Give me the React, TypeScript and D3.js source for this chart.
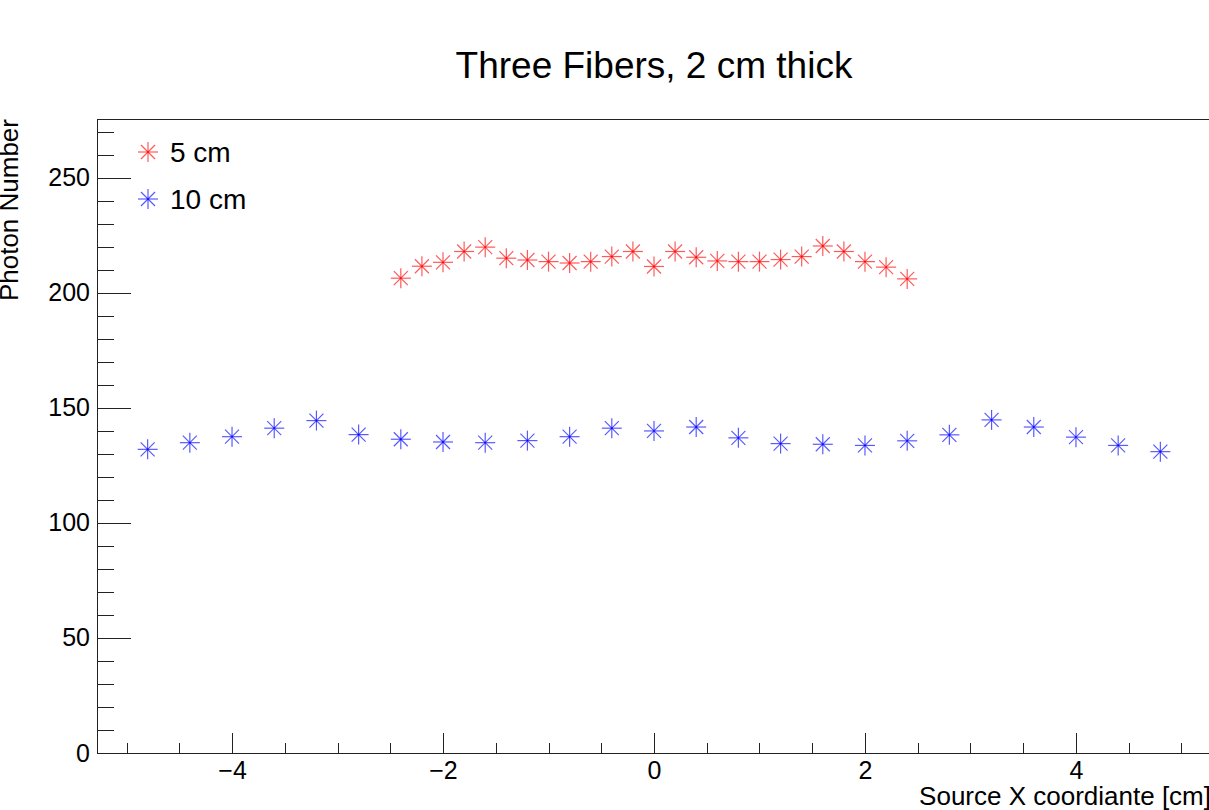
import React, { useEffect, useRef } from "react";
import * as d3 from "d3";

const title = "Three Fibers, 2 cm thick";
const xLabel = "Source X coordiante [cm]";
const yLabel = "Photon Number";

// 5 cm series
const redX = [
  -2.4, -2.2, -2.0, -1.8, -1.6, -1.4, -1.2, -1.0, -0.8, -0.6, -0.4, -0.2, 0.0,
  0.2, 0.4, 0.6, 0.8, 1.0, 1.2, 1.4, 1.6, 1.8, 2.0, 2.2, 2.4,
];
const redY = [
  206.4, 211.6, 213.3, 218.0, 219.9, 215.1, 214.3, 213.6, 213.0, 213.6, 215.8,
  218.0, 211.5, 218.0, 215.5, 213.9, 213.6, 213.6, 214.5, 215.8, 220.4, 218.0,
  213.6, 211.2, 206.1,
];

// 10 cm series
const blueX = [
  -4.8, -4.4, -4.0, -3.6, -3.2, -2.8, -2.4, -2.0, -1.6, -1.2, -0.8, -0.4, 0.0,
  0.4, 0.8, 1.2, 1.6, 2.0, 2.4, 2.8, 3.2, 3.6, 4.0, 4.4, 4.8,
];
const blueY = [
  132.0, 134.9, 137.5, 141.2, 144.5, 138.4, 136.4, 135.2, 134.9, 135.8, 137.5,
  141.2, 140.0, 141.7, 137.0, 134.5, 134.2, 133.7, 135.7, 138.3, 144.8, 141.7,
  137.3, 133.7, 131.0,
];

const legendLabels = ["5 cm", "10 cm"];
const seriesColors = ["#ff0000", "#0000ff"];

const xMajorTicks = [-4, -2, 0, 2, 4];
const yMajorTicks = [0, 50, 100, 150, 200, 250];

const FONT = "'Liberation Sans', Arial, Helvetica, sans-serif";

const App = () => {
  const svgRef = useRef<SVGSVGElement | null>(null);

  useEffect(() => {
    const root = d3.select(svgRef.current);
    root.selectAll("*").remove();

    const W = 1209;
    const H = 810;
    const left = 97;
    const top = 119;
    const right = 1211;
    const bottom = 753;

    root.attr("width", W).attr("height", H);

    const x = d3.scaleLinear().domain([-5.28, 5.28]).range([left, right]);
    const y = d3.scaleLinear().domain([0, 275.6]).range([bottom, top]);

    root
      .append("rect")
      .attr("width", W)
      .attr("height", H)
      .attr("fill", "#fff");

    // frame
    root
      .append("rect")
      .attr("x", left)
      .attr("y", top)
      .attr("width", right - left)
      .attr("height", bottom - top)
      .attr("fill", "none")
      .attr("stroke", "#222")
      .attr("stroke-width", 1)
      .attr("shape-rendering", "crispEdges");

    // minor ticks
    const xMinor = d3.range(-5, 5.01, 0.5).filter((v) => Math.abs(v % 2) > 0.01);
    const yMinor = d3.range(0, 271, 10).filter((v) => v % 50 !== 0);

    const xAxisMinor = root
      .append("g")
      .attr("transform", `translate(0,${bottom})`)
      .call(d3.axisBottom(x).tickValues(xMinor).tickSize(-10).tickFormat(() => ""));
    const xAxis = root
      .append("g")
      .attr("transform", `translate(0,${bottom})`)
      .call(
        d3
          .axisBottom(x)
          .tickValues(xMajorTicks)
          .tickSize(-20)
          .tickFormat(d3.format("d"))
      );
    const yAxisMinor = root
      .append("g")
      .attr("transform", `translate(${left},0)`)
      .call(d3.axisLeft(y).tickValues(yMinor).tickSize(-17).tickFormat(() => ""));
    const yAxis = root
      .append("g")
      .attr("transform", `translate(${left},0)`)
      .call(d3.axisLeft(y).tickValues(yMajorTicks).tickSize(-34).tickPadding(7));

    [xAxisMinor, xAxis, yAxisMinor, yAxis].forEach((g) => {
      g.select(".domain").remove();
      g.selectAll("line").attr("stroke", "#222").attr("shape-rendering", "crispEdges");
      g.selectAll("text")
        .attr("fill", "#000")
        .style("font-family", FONT)
        .style("font-size", "25px");
    });
    xAxis.selectAll("text").attr("dy", "0.71em").attr("y", 8);

    // title
    root
      .append("text")
      .attr("x", 654)
      .attr("y", 78)
      .attr("text-anchor", "middle")
      .style("font-family", FONT)
      .style("font-size", "37px")
      .text(title);

    // axis labels
    root
      .append("text")
      .attr("x", 1211)
      .attr("y", 805)
      .attr("text-anchor", "end")
      .style("font-family", FONT)
      .style("font-size", "26px")
      .text(xLabel);

    root
      .append("text")
      .attr("transform", `translate(18,${top}) rotate(-90)`)
      .attr("text-anchor", "end")
      .style("font-family", FONT)
      .style("font-size", "26px")
      .text(yLabel);

    // asterisk marker
    const star = (g: any, cx: number, cy: number, color: string) => {
      const r = 10;
      const d = 7;
      const s = g.append("g").attr("transform", `translate(${cx},${cy})`);
      const segs = [
        [-r, 0, r, 0],
        [0, -r, 0, r],
        [-d, -d, d, d],
        [-d, d, d, -d],
      ];
      segs.forEach(([x1, y1, x2, y2]) => {
        s.append("line")
          .attr("x1", x1)
          .attr("y1", y1)
          .attr("x2", x2)
          .attr("y2", y2)
          .attr("stroke", color)
          .attr("stroke-width", 1.2)
          .attr("stroke-opacity", 0.65);
      });
    };

    const series = [
      { xs: redX, ys: redY, color: seriesColors[0] },
      { xs: blueX, ys: blueY, color: seriesColors[1] },
    ];

    const marks = root.append("g");
    series.forEach((s) => {
      s.xs.forEach((xv, i) => {
        star(marks, x(xv), y(s.ys[i]), s.color);
      });
    });

    // legend
    const legend = root.append("g");
    legendLabels.forEach((lab, i) => {
      const ly = 152 + i * 47;
      star(legend, 148, ly, seriesColors[i]);
      legend
        .append("text")
        .attr("x", 170)
        .attr("y", ly)
        .attr("dy", "0.35em")
        .style("font-family", FONT)
        .style("font-size", "28px")
        .text(lab);
    });
  }, []);

  return (
    <div style={{ position: "absolute", left: 0, top: 0 }}>
      <svg ref={svgRef} style={{ display: "block" }}></svg>
    </div>
  );
};

export default App;
